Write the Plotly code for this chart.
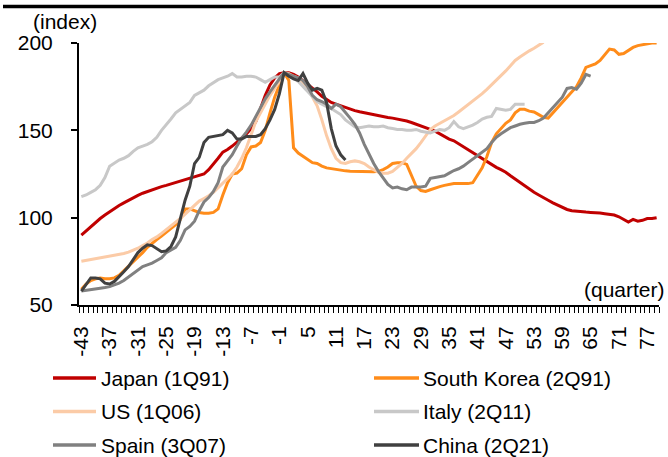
import plotly.graph_objects as go

# ---------------- data ----------------
quarters = list(range(-43, 80))
tick_labels = [str(q) for q in range(-43, 78, 6)]

series_names = ["Japan (1Q91)", "South Korea (2Q91)", "US (1Q06)",
                "Italy (2Q11)", "Spain (3Q07)", "China (2Q21)"]
series_colors = ["#C00000", "#FF8C1A", "#FBCBA7", "#C8C8C8", "#808080", "#404040"]

japan = [
    90, 92.5, 95, 97, 99.5, 101.5, 103.5, 105.5, 107, 108.5,
    110, 111.5, 112.8, 114, 115, 116, 117, 117.8, 118.5, 119.3,
    120, 120.8, 121.5, 122.3, 123, 124, 125, 127.5, 130.5, 134,
    137.5, 139, 141, 143, 145.5, 148, 151, 155, 163, 170,
    176, 180, 182.5, 183, 183, 182, 180.5, 178.5, 176.5, 174.5,
    172, 169.5, 167.5, 166, 165, 164, 163, 162, 161.3, 160.6,
    160, 159.3, 158.8, 158.3, 157.8, 157.3, 157, 156.5, 156, 155.3,
    154.5, 153.6, 152.6, 151.5, 150.5, 149.5, 148, 146.5, 145, 144,
    142.3, 140.5, 138.7, 137, 135.5, 134, 132.3, 130.5, 128.8, 127.5,
    126, 124, 122, 120.3, 118.5, 116.5, 114.5, 113, 111.3, 110,
    108.5, 107.3, 106, 104.7, 104, 103.6, 103.3, 103.2, 103, 103,
    102.7, 102.3, 102, 101.5, 100.5, 99, 97.5, 99, 98, 98.5,
    99.5, 99.5, 100,
]

south_korea = [
    59, 62, 64, 65, 65.5, 65, 65, 65.5, 67, 69.5,
    72, 74.5, 77, 80, 83, 85.5, 87.5, 89.5, 91.5, 94,
    96, 99, 105, 105, 104, 103, 102.5, 102.5, 103, 105,
    113, 120, 125, 125.5, 128, 136, 140.5, 141, 143, 150,
    160, 169, 176, 183, 178.5, 140, 137, 135, 133, 131.5,
    131, 129.5, 128.5, 128, 127.5, 127, 126.8, 126.6, 126.5, 126.5,
    126.5, 126.3, 126.3, 126.5, 127.5, 129, 131, 131.5, 131.5, 130.5,
    124, 118, 115.5, 115, 116, 117, 117.8, 118.5, 119, 119.5,
    119.5, 119.5, 119.5, 120, 124, 128.5, 135, 143, 148, 151,
    154, 156, 160, 162, 162, 161, 160.5, 159, 157.5, 157,
    160, 163, 166, 169, 172.5, 175, 180, 186, 187, 188,
    190, 193, 196.5, 196, 193.5, 194, 196, 197.5, 198.5, 199,
    199.5, 200, 200,
]

us = [
    75, 75.5, 76, 76.5, 77, 77.3, 77.7, 78.2, 78.8, 79.5,
    80.3, 81.3, 82.5, 84, 85.5, 87.5, 89, 91, 93, 95,
    97.5, 99.5, 102, 104.5, 107, 109.5, 111, 112.5, 114.5, 117,
    119.5, 122, 125, 129, 134, 140, 147, 155, 160, 165,
    170, 174, 178, 183, 182.5, 181, 180, 177, 174, 169,
    164, 156, 147, 139.5, 134, 131.5, 131, 132, 132.5, 132,
    131, 129, 127.5, 126, 125.5, 125.5, 126.5, 128.5, 131, 134,
    136.5, 139.5, 143, 147, 150.5, 152.5, 154, 155.5, 157, 158.5,
    160.5, 162.5, 164.5, 166.5, 169, 171, 173.5, 176, 178.5, 181,
    184, 187, 190, 192, 194, 195.5, 197, 199, 200.5,
]

italy = [
    112, 113, 114.5, 116, 118.5, 123, 129.5, 131.5, 133, 134,
    135.5, 138, 140, 141, 142, 143.5, 146, 150, 153, 156.5,
    160, 162, 164, 166, 170, 171.5, 173, 175.5, 177.5, 179,
    180, 181, 182.5, 180.5, 180.5, 181, 181, 180.5, 179, 177.5,
    179, 180.5, 180.5, 183, 181.5, 180, 178, 175, 172, 169,
    166.5, 165, 163.5, 162.5, 160.5, 159, 156, 154, 152, 151.5,
    152, 152.5, 152, 152, 152.5, 151.5, 151, 150.5, 150.5, 150,
    150, 150.5, 149.5, 149, 148.5, 149.5, 150.5, 150, 151.5, 155,
    152, 151, 152, 153, 154.5, 156.5, 157.5, 158, 162.5, 162,
    161.5, 162, 165, 165, 165,
]

spain = [
    58, 58.5, 59, 59.3, 59.6, 60, 60.5, 61.5, 62.5, 64,
    66, 68, 70.5, 72, 73, 74, 75.5, 77, 80, 81.5,
    83, 87, 93, 95, 98, 104, 109, 111.5, 115, 120,
    129, 132.5, 136, 141, 145.5, 149, 153, 158, 163, 168,
    172, 176, 179.5, 183, 182, 181, 180, 178.5, 175, 170,
    167.5, 166.5, 165, 162.5, 165, 163.5, 160.5, 157, 153.5, 148.5,
    142, 136, 131, 126.5, 123, 119, 117, 117.5, 116.5, 116,
    117.5, 117.5, 117.5, 118, 122.5, 123, 123.5, 124, 125.5, 127,
    128, 129.5, 131.5, 133.5, 135.5, 137.5, 139.5, 143, 146, 148,
    150, 151.5, 152.5, 153.5, 154, 154.5, 154.5, 155.5, 157, 160,
    163, 166, 169, 174, 174.5, 173.5, 177, 182, 181,
]

china = [
    58, 62, 65.5, 65.5, 65, 62.5, 62, 63.5, 66, 69,
    72, 76, 80, 82.5, 84.5, 84, 82, 80.5, 81, 83.5,
    89, 100, 110, 118, 131, 134.5, 143, 146, 146.5, 147,
    147.5, 150, 148.5, 145, 145, 146.5, 146.5, 146.5, 147.5, 151,
    156, 162, 171, 183, 181, 179.5, 178.5, 182.5, 177, 173,
    174, 173, 166, 151, 141, 136, 133,
]

series_values = [japan, south_korea, us, italy, spain, china]

# ---------------- figure ----------------
W, H = 668, 457
L, R, T, B = 79, 9, 43, 152
PW, PH = W - L - R, H - T - B
FONT = "Liberation Sans, Arial, sans-serif"


def px_x(x):
    return (x - L) / PW


def px_y(y):
    return (H - B - y) / PH


fig = go.Figure()
for name, vals, col in zip(series_names, series_values, series_colors):
    fig.add_trace(go.Scatter(
        x=quarters[:len(vals)], y=vals, mode="lines", name=name,
        line=dict(color=col, width=3), showlegend=False,
        hoverinfo="x+y+name"))

fig.update_layout(
    width=W, height=H,
    margin=dict(l=L, r=R, t=T, b=B, pad=0),
    paper_bgcolor="white", plot_bgcolor="white",
    font=dict(family=FONT, size=21, color="black"),
    xaxis=dict(
        range=[-43.5, 79.5], tickmode="array",
        tickvals=list(range(-43, 78, 6)), ticktext=tick_labels,
        tickangle=-90, ticks="outside", ticklen=6, tickcolor="rgba(0,0,0,0)",
        showline=True, linecolor="black", linewidth=2,
        showgrid=False, zeroline=False, ticklabelstandoff=5,
        tickfont=dict(size=21),
        minor=dict(tickmode="linear", tick0=-43.5, dtick=1, ticks="outside",
                   ticklen=6, tickwidth=1, tickcolor="black", showgrid=False),
    ),
    yaxis=dict(
        range=[50, 200], tickmode="array", tickvals=[50, 100, 150, 200],
        ticks="outside", ticklen=6, tickwidth=1.5, tickcolor="black",
        showline=True, linecolor="black", linewidth=2,
        showgrid=False, zeroline=False, ticklabelstandoff=14,
        tickfont=dict(size=21),
    ),
)

# thick black rule at the very top
fig.add_shape(type="line", xref="paper", yref="paper",
              x0=px_x(3), x1=px_x(668), y0=px_y(6.5), y1=px_y(6.5),
              line=dict(color="black", width=3.5))

# axis unit labels
fig.add_annotation(text="(index)", xref="paper", yref="paper",
                   x=px_x(65), y=px_y(22), xanchor="center", yanchor="middle",
                   showarrow=False, font=dict(size=21))
fig.add_annotation(text="(quarter)", xref="paper", yref="paper",
                   x=px_x(667), y=px_y(289), xanchor="right", yanchor="middle",
                   showarrow=False, font=dict(size=21))

# legend drawn manually (2 columns x 3 rows)
leg_cols = [(53, 96, 99), (374, 419, 421)]
leg_rows = [378, 411.5, 445]
for i, (name, col) in enumerate(zip(series_names, series_colors)):
    r, c = divmod(i, 2)
    x0, x1, xt = leg_cols[c]
    yy = leg_rows[r]
    fig.add_shape(type="line", xref="paper", yref="paper",
                  x0=px_x(x0), x1=px_x(x1), y0=px_y(yy), y1=px_y(yy),
                  line=dict(color=col, width=3.5))
    fig.add_annotation(text=name, xref="paper", yref="paper",
                       x=px_x(xt), y=px_y(yy), xanchor="left", yanchor="middle",
                       showarrow=False, font=dict(size=21))

fig.write_html(
    "out.html",
    config={"displayModeBar": False},
    post_script="document.body.style.margin='0';document.body.style.padding='0';",
)
